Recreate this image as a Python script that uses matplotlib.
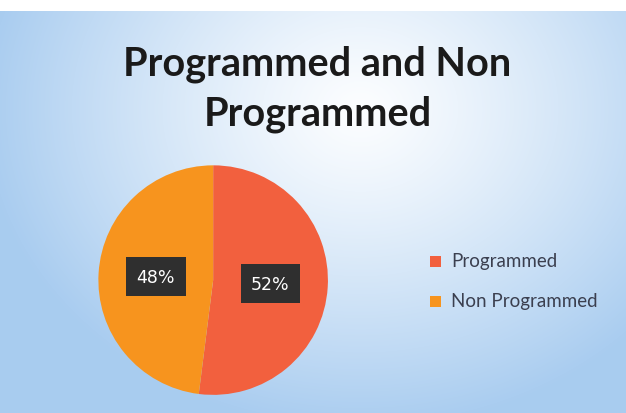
import numpy as np
import matplotlib.pyplot as plt

# data
labels = ["Programmed", "Non Programmed"]
shares = [52, 48]
colors = ["#F2603E", "#F7941E"]
title = "Programmed and Non\nProgrammed"

fig = plt.figure(figsize=(6.26, 4.14), dpi=100)

# background: light blue with a whitish glow near the top middle
bg = fig.add_axes([0, 0, 1, 1])
h, w = 414, 626
yy, xx = np.mgrid[0:h, 0:w]
d = np.sqrt(((xx - 360) / 380.0) ** 2 + ((yy - 110) / 320.0) ** 2)
t = np.clip(d, 0, 1) ** 1.2
white = np.array([0.99, 0.995, 1.0])
blue = np.array([0.66, 0.80, 0.94])
img = white[None, None, :] * (1 - t[..., None]) + blue[None, None, :] * t[..., None]
img[:12, :, :] = 1.0
bg.imshow(img, aspect="auto", extent=[0, 1, 0, 1], origin="upper")
bg.set_xlim(0, 1)
bg.set_ylim(0, 1)
bg.axis("off")

fig.text(0.507, 0.785, title, ha="center", va="center", fontsize=28.5,
         fontweight="bold", family="Lato", color="#1a1a1a", linespacing=1.4)

# pie
ax = fig.add_axes([0.155, 0.041, 0.371, 0.560])
wedges, _ = ax.pie(shares, colors=colors, startangle=90, counterclock=False,
                   radius=1, wedgeprops=dict(linewidth=0))
for wd, v in zip(wedges, shares):
    ang = np.deg2rad((wd.theta1 + wd.theta2) / 2)
    ax.text(0.5 * np.cos(ang), 0.5 * np.sin(ang), f"{v}%", ha="center", va="center",
            fontsize=12.5, color="white", family="DejaVu Sans",
            bbox=dict(boxstyle="square,pad=0.6", fc="#2f2f2f", ec="none"))
ax.set_xlim(-1.01, 1.01)
ax.set_ylim(-1.01, 1.01)
ax.set_aspect("equal")
ax.axis("off")

# legend
for i, (lab, c) in enumerate(zip(labels, colors)):
    y = 1 - (262 + 40 * i) / 414
    fig.patches.append(plt.Rectangle((430 / 626, y - 6 / 414), 11 / 626, 11 / 414,
                                     transform=fig.transFigure, fc=c, ec="none"))
    fig.text(451 / 626, y, lab, ha="left", va="center", fontsize=13.5,
             family="Lato", color="#3b3f4f")

fig.savefig("out.png", dpi=100)
